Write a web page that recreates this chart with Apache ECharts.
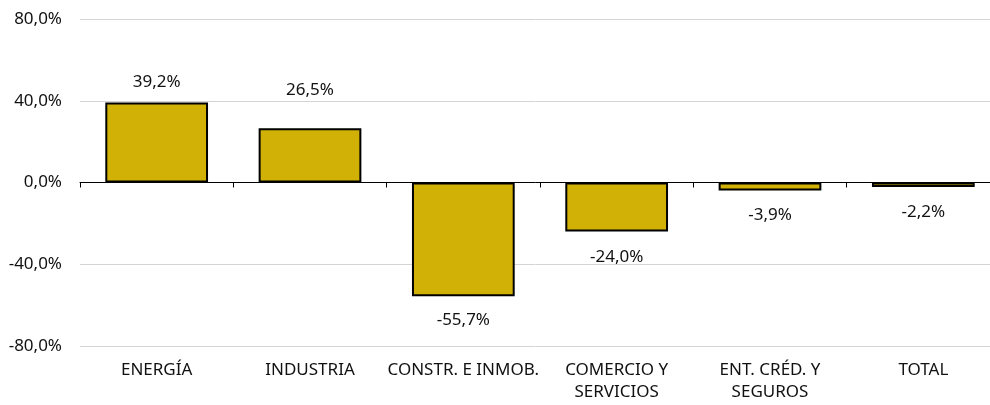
<!DOCTYPE html>
<html>
<head>
<meta charset="utf-8">
<script src="https://cdn.jsdelivr.net/npm/echarts@6/dist/echarts.min.js"></script>
<style>
	html, body { margin: 0; padding: 0; background: #fff; }
	#main { width: 990px; height: 405px; }
</style>
</head>
<body>
<div id="main"></div>
<script>
const categories = ['ENERGÍA', 'INDUSTRIA', 'CONSTR. E INMOB.', 'COMERCIO Y\nSERVICIOS', 'ENT. CRÉD. Y\nSEGUROS', 'TOTAL'];
const values = [39.2, 26.5, -55.7, -24.0, -3.9, -2.2];
const yTicks = {min: -80, max: 80, interval: 40};

// the value labels sit at slightly different gaps from their bars in the original
const labelGap = [12, 30, 15, 17, 16, 17];

const fmt = v => v.toFixed(1).replace('.', ',') + '%';
const font = 'Noto Sans';
const textColor = '#111';

const chart = echarts.init(document.getElementById('main'), null, {renderer: 'canvas'});
chart.setOption({
	animation: false,
	grid: {left: 80, top: 19, width: 920, bottom: 59, outerBoundsMode: 'none', containLabel: false},
	xAxis: [
		{
			type: 'category',
			data: categories,
			axisLine: {onZero: true, lineStyle: {color: '#000', width: 1}},
			axisTick: {show: true, length: 5, lineStyle: {color: '#000'}},
			axisLabel: {show: false}
		},
		{
			type: 'category',
			data: categories,
			position: 'bottom',
			axisLine: {show: false, onZero: false},
			axisTick: {show: false},
			axisLabel: {
				margin: 13,
				color: textColor,
				fontSize: 17,
				fontFamily: font,
				lineHeight: 22,
				interval: 0
			}
		}
	],
	yAxis: {
		type: 'value',
		min: yTicks.min,
		max: yTicks.max,
		interval: yTicks.interval,
		axisLine: {show: false},
		axisTick: {show: false},
		axisLabel: {
			formatter: fmt,
			color: textColor,
			fontSize: 17,
			fontFamily: font,
			margin: 18
		},
		splitLine: {lineStyle: {color: '#d4d4d4', width: 1}}
	},
	series: [{
		type: 'bar',
		xAxisIndex: 0,
		data: values.map((v, i) => ({
			value: v,
			label: {position: v >= 0 ? 'top' : 'bottom', distance: labelGap[i]}
		})),
		barCategoryGap: '33%',
		itemStyle: {color: '#D1B106', borderColor: '#000', borderWidth: 2},
		label: {
			show: true,
			formatter: p => fmt(p.value),
			color: textColor,
			fontSize: 17,
			fontFamily: font
		}
	}]
});
</script>
</body>
</html>
